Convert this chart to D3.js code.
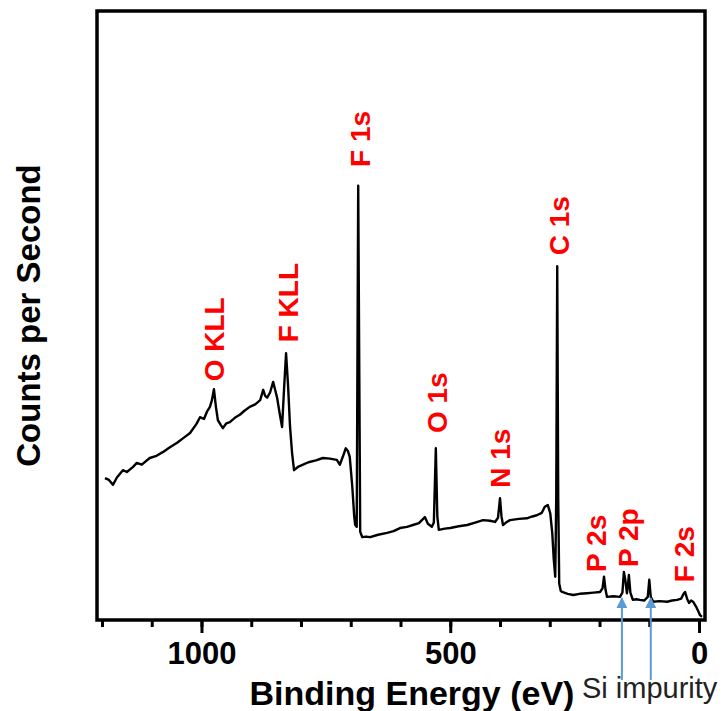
<!DOCTYPE html>
<html>
<head>
<script src="https://d3js.org/d3.v7.min.js"></script>
<style>
  body { margin: 0; background: white; }
  svg { display: block; font-family: 'Liberation Sans', Arial, sans-serif; }
</style>
</head>
<body>
<div id="chart"></div>
<script>
// binding energy (eV), high to low
const energy = [1194, 1186, 1178, 1170, 1158, 1150, 1138, 1130, 1120, 1104, 1092, 1077, 1065, 1049, 1036, 1023,
  1010, 1003, 995, 989, 983, 979, 975, 971, 967, 961, 957, 950, 943, 933, 923, 913, 903, 892, 882, 876, 872, 868,
  862, 856, 852, 848, 843, 838, 834, 830, 826, 822, 818, 814, 805, 796, 785, 770, 756, 742, 728, 722, 716, 710,
  706, 702, 697, 693, 691, 688, 685, 681, 677, 669, 661, 645, 627, 614, 601, 587, 575, 563, 551, 545, 537, 533,
  529, 526, 523, 511, 500, 483, 466, 450, 434, 420, 410, 404, 400, 397, 394, 388, 380, 362, 346, 335, 326, 316,
  310, 304, 299, 295, 292, 289, 287, 285, 283, 281, 278, 275, 264, 253, 240, 225, 212, 199, 194, 191, 188, 185,
  172, 159, 154, 151, 148, 145, 143, 141, 138, 133, 126, 119, 110, 103, 100, 97, 92, 80, 64, 54, 44, 36, 31, 28,
  24, 20, 16, 12, 6, 2, -2, -6];
// counts per second (arbitrary units, axis has no numbers)
const counts = [23.3, 23.0, 22.2, 23.4, 24.6, 24.3, 25.1, 25.8, 25.5, 26.6, 26.9, 27.6, 28.3, 29.1, 29.9, 30.7,
  32.2, 33.3, 33.0, 34.2, 35.0, 36.1, 37.9, 35.0, 32.8, 32.0, 31.5, 32.3, 32.5, 33.2, 33.7, 34.4, 35.0, 35.4, 36.1,
  37.8, 36.8, 36.5, 37.4, 39.1, 37.8, 36.5, 34.0, 31.7, 38.0, 43.8, 38.5, 31.7, 27.5, 24.6, 25.2, 25.5, 25.9, 26.2,
  26.6, 26.5, 26.3, 25.5, 26.8, 28.2, 27.8, 26.8, 22.0, 17.0, 15.6, 15.3, 71.3, 14.5, 13.6, 13.7, 13.6, 14.0, 14.3,
  14.6, 15.1, 15.3, 15.6, 15.9, 16.9, 15.8, 15.3, 16.0, 28.2, 17.0, 14.8, 15.0, 15.1, 15.4, 15.6, 16.0, 16.4, 16.3,
  16.1, 16.8, 20.0, 17.0, 15.6, 16.0, 16.4, 16.6, 16.7, 17.0, 17.2, 17.6, 18.6, 18.9, 17.5, 14.3, 10.0, 7.1, 20.0,
  58.1, 20.0, 6.0, 4.8, 4.6, 4.3, 4.1, 4.3, 4.4, 4.5, 4.6, 5.2, 7.1, 5.0, 3.8, 3.9, 3.8, 4.5, 7.9, 6.5, 4.4, 5.5,
  7.4, 4.5, 3.3, 3.4, 3.3, 3.2, 3.8, 6.6, 3.8, 3.0, 3.1, 3.0, 3.2, 3.3, 3.5, 4.3, 4.6, 3.5, 2.8, 3.2, 3.0, 2.2,
  1.5, 0.8, 0.5];

// peak labels: text, energy of label centre, counts at label foot
const peakNames = ["O KLL", "F KLL", "F 1s", "O 1s", "N 1s", "C 1s", "P 2s", "P 2p", "F 2s"];
const peakEnergy = [976, 826, 681, 527, 400, 281, 207, 142, 30];
const peakFoot = [39.2, 45.6, 74.4, 30.7, 21.7, 59.9, 7.9, 8.7, 6.2];

// Si impurity arrows
const siEnergy = [155, 97];
const siTip = 3.6;

const majorTicks = [0, 500, 1000];
const minorTicks = d3.range(0, 1201, 100);

const W = 726, H = 711;
const mLeft = 97, mRight = 705, mTop = 11, mBottom = 620;

const x = d3.scaleLinear().domain([1210, -12]).range([mLeft, mRight]);
const y = d3.scaleLinear().domain([0, 100]).range([mBottom, mTop]);

const svg = d3.select("#chart").append("svg")
    .attr("width", W)
    .attr("height", H);

// minor ticks
svg.append("g")
    .attr("transform", `translate(0,${mBottom})`)
    .call(d3.axisBottom(x).tickValues(minorTicks).tickSize(7).tickFormat(""))
    .call(g => g.select(".domain").remove())
    .call(g => g.selectAll("line").attr("stroke-width", 3));

// major ticks + labels
svg.append("g")
    .attr("transform", `translate(0,${mBottom})`)
    .call(d3.axisBottom(x).tickValues(majorTicks).tickSize(13).tickPadding(9).tickFormat(d3.format("d")))
    .call(g => g.select(".domain").remove())
    .call(g => g.selectAll("line").attr("stroke-width", 3))
    .call(g => g.selectAll("text")
        .attr("font-size", 31).attr("font-weight", "bold")
        .attr("font-family", "'Liberation Sans', Arial, sans-serif").attr("fill", "#000"));

// spectrum
const line = d3.line()
    .x((d, i) => x(energy[i]))
    .y((d, i) => y(counts[i]));

svg.append("path")
    .datum(counts)
    .attr("d", line)
    .attr("fill", "none")
    .attr("stroke", "#000")
    .attr("stroke-width", 2.4)
    .attr("stroke-linejoin", "round");

// frame
svg.append("rect")
    .attr("x", mLeft).attr("y", mTop)
    .attr("width", mRight - mLeft).attr("height", mBottom - mTop)
    .attr("fill", "none").attr("stroke", "#000").attr("stroke-width", 3.5);

// peak labels
svg.selectAll(".peak")
    .data(peakNames)
    .join("text")
    .attr("class", "peak")
    .attr("transform", (d, i) => `translate(${x(peakEnergy[i])},${y(peakFoot[i])}) rotate(-90)`)
    .attr("dy", "0.36em")
    .attr("font-size", 28)
    .attr("font-weight", "bold")
    .attr("fill", "#ff0000")
    .text(d => d);

// arrows
svg.append("defs").append("marker")
    .attr("id", "head")
    .attr("viewBox", "0 0 10 10")
    .attr("refX", 9).attr("refY", 5)
    .attr("markerWidth", 12).attr("markerHeight", 11)
    .attr("markerUnits", "userSpaceOnUse")
    .attr("orient", "auto")
    .append("path")
    .attr("d", "M0,0 L10,5 L0,10 Z")
    .attr("fill", "#5b9bd5");

svg.selectAll(".si")
    .data(siEnergy)
    .join("line")
    .attr("class", "si")
    .attr("x1", d => x(d)).attr("x2", d => x(d))
    .attr("y1", 680).attr("y2", y(siTip))
    .attr("stroke", "#5b9bd5")
    .attr("stroke-width", 2)
    .attr("marker-end", "url(#head)");

// axis titles
svg.append("text")
    .attr("x", (mLeft + mRight) / 2 + 11)
    .attr("y", 705)
    .attr("text-anchor", "middle")
    .attr("font-size", 34)
    .attr("font-weight", "bold")
    .text("Binding Energy (eV)");

svg.append("text")
    .attr("transform", `translate(40,${(mTop + mBottom) / 2}) rotate(-90)`)
    .attr("text-anchor", "middle")
    .attr("font-size", 33)
    .attr("font-weight", "bold")
    .text("Counts per Second");

svg.append("text")
    .attr("x", 582)
    .attr("y", 698)
    .attr("font-size", 29)
    .attr("fill", "#222")
    .text("Si impurity");
</script>
</body>
</html>
